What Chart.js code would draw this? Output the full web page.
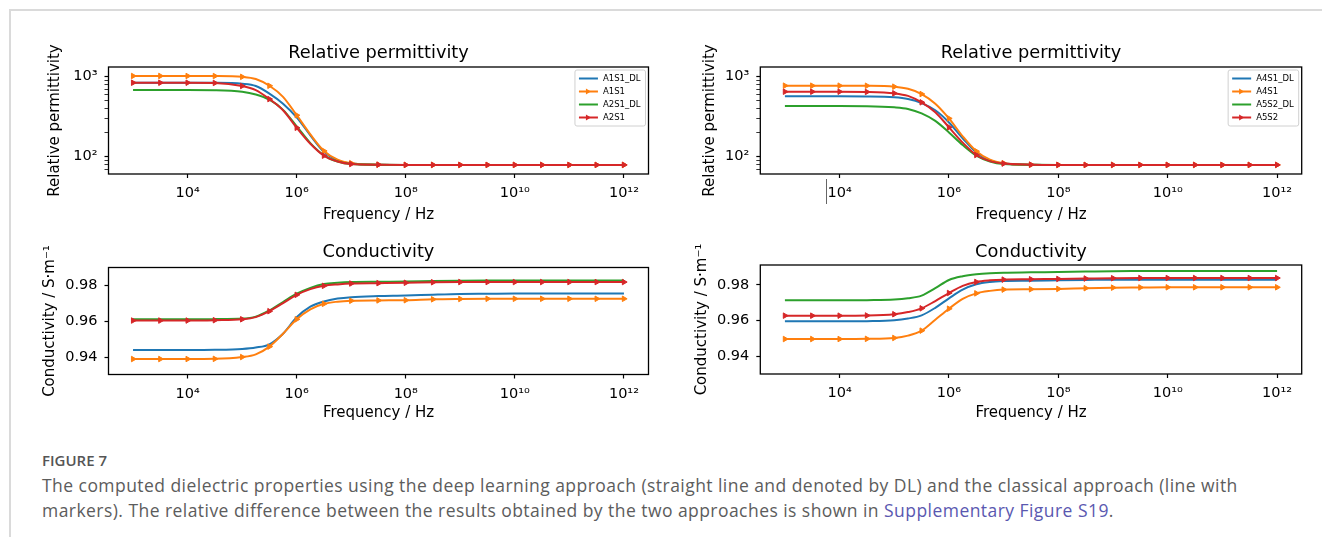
<!DOCTYPE html>
<html>
<head>
<meta charset="utf-8">
<script src="https://cdn.jsdelivr.net/npm/chart.js"></script>
<style>
  html, body { margin: 0; padding: 0; background: #fff; }
  body { width: 1322px; height: 537px; position: relative; overflow: hidden; font-family: 'Open Sans', sans-serif; }
  canvas { position: absolute; }
  .rule-h { position: absolute; left: 9px; top: 9px; width: 1313px; border-top: 2px solid #dadada; }
  .rule-v { position: absolute; left: 9px; top: 9px; height: 528px; border-left: 2px solid #dadada; }
  .stray { position: absolute; left: 826px; top: 179px; width: 1px; height: 25px; background: #666; }
  .cap { position: absolute; left: 42px; white-space: nowrap; color: #5c5c5c; line-height: 20px; }
  .cap.fig { top: 450px; font-size: 15px; font-weight: 600; color: #555; }
  .cap.txt { font-size: 17.5px; letter-spacing: 0.45px; }
  .cap a { color: #5a58b0; text-decoration: none; }
</style>
</head>
<body>
<div class="rule-h"></div>
<div class="rule-v"></div>
<canvas id="permLeft"></canvas>
<canvas id="permRight"></canvas>
<canvas id="condLeft"></canvas>
<canvas id="condRight"></canvas>
<div class="stray"></div>
<div class="cap fig">FIGURE 7</div>
<div class="cap txt" style="top:475px">The computed dielectric properties using the deep learning approach (straight line and denoted by DL) and the classical approach (line with</div>
<div class="cap txt" style="top:499.5px">markers). The relative difference between the results obtained by the two approaches is shown in <a>Supplementary Figure S19</a>.</div>
<script>
// frequency grid (Hz)
const freqHz = [1e3, 3.16e3, 1e4, 3.16e4, 1e5, 1.78e5, 3.16e5, 5.62e5, 1e6, 1.78e6, 3.16e6, 5.62e6,
  1e7, 3.16e7, 1e8, 3.16e8, 1e9, 3.16e9, 1e10, 3.16e10, 1e11, 3.16e11, 1e12];

const xTickValues = [1e4, 1e6, 1e8, 1e10, 1e12];
const xTickLabels = ['10⁴', '10⁶', '10⁸', '10¹⁰', '10¹²'];
const permTickValues = [100, 1000];
const permTickLabels = ['10²', '10³'];
const permMinorTicks = [70, 80, 90, 200, 300, 400, 500, 600, 700, 800, 900];
const condTickValues = [0.94, 0.96, 0.98];
const condTickLabels = ['0.94', '0.96', '0.98'];

const leftNames = ['A1S1_DL', 'A1S1', 'A2S1_DL', 'A2S1'];
const rightNames = ['A4S1_DL', 'A4S1', 'A5S2_DL', 'A5S2'];

// relative permittivity, left
const permA1S1_DL = [840, 840, 840, 838, 815, 765, 615, 460, 310, 185, 115, 90, 82, 79.5, 79, 79, 79, 79, 79, 79, 79, 79, 79];
const permA1S1 = [1020, 1020, 1020, 1018, 995, 935, 770, 560, 330, 190, 118, 92, 83, 79.5, 79, 79, 79, 79, 79, 79, 79, 79, 79];
const permA2S1_DL = [680, 680, 680, 677, 650, 600, 515, 385, 240, 148, 104, 87, 81, 79.5, 79, 79, 79, 79, 79, 79, 79, 79, 79];
const permA2S1 = [840, 840, 840, 835, 765, 680, 525, 380, 230, 145, 103, 87, 81, 79.5, 79, 79, 79, 79, 79, 79, 79, 79, 79];

// relative permittivity, right
const permA4S1_DL = [568, 568, 568, 566, 552, 525, 468, 380, 268, 170, 113, 90, 82, 79.5, 79, 79, 79, 79, 79, 79, 79, 79, 79];
const permA4S1 = [772, 772, 772, 770, 750, 705, 607, 460, 301, 180, 117, 92, 83, 79.5, 79, 79, 79, 79, 79, 79, 79, 79, 79];
const permA5S2_DL = [430, 430, 430, 428, 414, 395, 348, 280, 201, 140, 103, 87, 81, 79.5, 79, 79, 79, 79, 79, 79, 79, 79, 79];
const permA5S2 = [649, 649, 649, 645, 619, 575, 478, 360, 233, 150, 105, 88, 82, 79.5, 79, 79, 79, 79, 79, 79, 79, 79, 79];

// conductivity, left
const condA1S1_DL = [0.9439, 0.9439, 0.9439, 0.9440, 0.9445, 0.9453, 0.9471, 0.9530, 0.9621, 0.9680, 0.9709, 0.9725, 0.9733, 0.9739, 0.9742, 0.9747, 0.9751, 0.9752, 0.9753, 0.9753, 0.9753, 0.9753, 0.9753];
const condA1S1 = [0.9389, 0.9389, 0.9389, 0.9390, 0.9400, 0.9415, 0.9458, 0.9530, 0.9610, 0.9665, 0.9696, 0.9708, 0.9713, 0.9715, 0.9716, 0.9721, 0.9723, 0.9724, 0.9724, 0.9724, 0.9724, 0.9724, 0.9724];
const condA2S1_DL = [0.9610, 0.9610, 0.9610, 0.9611, 0.9614, 0.9625, 0.9659, 0.9706, 0.9752, 0.9785, 0.9806, 0.9813, 0.9817, 0.9819, 0.9820, 0.9823, 0.9825, 0.9826, 0.9826, 0.9826, 0.9826, 0.9826, 0.9826];
const condA2S1 = [0.9603, 0.9603, 0.9603, 0.9605, 0.9610, 0.9622, 0.9655, 0.9700, 0.9746, 0.9778, 0.9796, 0.9804, 0.9809, 0.9811, 0.9813, 0.9816, 0.9817, 0.9817, 0.9817, 0.9817, 0.9817, 0.9817, 0.9817];

// conductivity, right
const condA4S1_DL = [0.9596, 0.9596, 0.9596, 0.9597, 0.9602, 0.9612, 0.9630, 0.9672, 0.9725, 0.9774, 0.9804, 0.9817, 0.9822, 0.9824, 0.9826, 0.9828, 0.9830, 0.9830, 0.9830, 0.9830, 0.9830, 0.9830, 0.9830];
const condA4S1 = [0.9497, 0.9497, 0.9497, 0.9498, 0.9503, 0.9516, 0.9544, 0.9605, 0.9667, 0.9722, 0.9753, 0.9767, 0.9774, 0.9776, 0.9778, 0.9782, 0.9785, 0.9786, 0.9787, 0.9787, 0.9787, 0.9787, 0.9787];
const condA5S2_DL = [0.9714, 0.9714, 0.9714, 0.9715, 0.9718, 0.9725, 0.9740, 0.9782, 0.9828, 0.9849, 0.9860, 0.9866, 0.9869, 0.9871, 0.9873, 0.9875, 0.9877, 0.9878, 0.9879, 0.9879, 0.9879, 0.9879, 0.9879];
const condA5S2 = [0.9628, 0.9628, 0.9628, 0.9629, 0.9636, 0.9648, 0.9669, 0.9710, 0.9755, 0.9795, 0.9817, 0.9826, 0.9830, 0.9832, 0.9834, 0.9836, 0.9838, 0.9839, 0.9839, 0.9839, 0.9839, 0.9839, 0.9839];

const colors = ['#1f77b4', '#ff7f0e', '#2ca02c', '#d62728'];
const hasMarkers = [false, true, false, true];

Chart.defaults.font.family = '"DejaVu Sans", sans-serif';
Chart.defaults.color = '#000';

// markers only every half decade, like markevery in the original
function onHalfDecade(f) {
  const e = Math.log10(f) * 2;
  return Math.abs(e - Math.round(e)) < 0.01;
}

const frame = {
  id: 'frame',
  afterDatasetsDraw(chart) {
    const { ctx, chartArea: a } = chart;
    ctx.save();
    ctx.strokeStyle = '#000';
    ctx.lineWidth = 1.3;
    ctx.strokeRect(a.left, a.top, a.right - a.left, a.bottom - a.top);
    ctx.restore();
  }
};

const boxLegend = {
  id: 'boxLegend',
  afterDraw(chart, args, opts) {
    if (!opts.show) return;
    const { ctx, chartArea: a } = chart;
    const ds = chart.data.datasets;
    ctx.save();
    ctx.font = '8.5px "DejaVu Sans"';
    const textW = Math.max(...ds.map(d => ctx.measureText(d.label).width));
    const rowH = 13;
    const w = 28 + textW + 5, h = ds.length * rowH + 4;
    const x0 = a.right - 3 - w, y0 = a.top + 3;
    ctx.beginPath();
    ctx.roundRect(x0, y0, w, h, 2);
    ctx.fillStyle = 'rgba(255,255,255,0.8)';
    ctx.fill();
    ctx.strokeStyle = '#d0d0d0';
    ctx.lineWidth = 1;
    ctx.stroke();
    ds.forEach((d, i) => {
      const y = y0 + 2 + rowH * (i + 0.5);
      ctx.strokeStyle = d.borderColor;
      ctx.lineWidth = 2;
      ctx.beginPath();
      ctx.moveTo(x0 + 4, y);
      ctx.lineTo(x0 + 23, y);
      ctx.stroke();
      if (d.marker) {
        ctx.fillStyle = d.borderColor;
        ctx.beginPath();
        ctx.moveTo(x0 + 16, y);
        ctx.lineTo(x0 + 11, y - 3);
        ctx.lineTo(x0 + 11, y + 3);
        ctx.closePath();
        ctx.fill();
      }
      ctx.fillStyle = '#000';
      ctx.textBaseline = 'middle';
      ctx.fillText(d.label, x0 + 28, y + 0.5);
    });
    ctx.restore();
  }
};

function makeChart(id, r, cfg) {
  const canvas = document.getElementById(id);
  canvas.style.left = r.left + 'px';
  canvas.style.top = r.top + 'px';
  canvas.width = r.right - r.left;
  canvas.height = r.bottom - r.top;

  const titleSize = 17.8, titleLh = titleSize * 1.2;
  const axisSize = 15, axisLh = axisSize * 1.2;
  const padTop = r.titleY - r.top - titleLh / 2;
  const padBottom = r.boxTop - r.top - padTop - titleLh;

  const datasets = cfg.names.map((name, i) => ({
    label: name,
    data: freqHz.map((f, j) => ({ x: f, y: cfg.series[i][j] })),
    borderColor: colors[i],
    backgroundColor: colors[i],
    borderWidth: 2,
    cubicInterpolationMode: 'monotone',
    marker: hasMarkers[i],
    pointStyle: 'triangle',
    rotation: 90,
    pointRadius: ctx => (hasMarkers[i] && onHalfDecade(ctx.raw.x)) ? 3.2 : 0,
    pointBorderWidth: 1,
    order: 3 - i
  }));

  return new Chart(canvas, {
    type: 'line',
    data: { datasets },
    options: {
      responsive: false,
      animation: false,
      devicePixelRatio: 1,
      layout: { padding: { left: 0, top: 0, right: r.right - r.boxRight, bottom: 0 } },
      plugins: {
        legend: { display: false },
        tooltip: { enabled: false },
        title: {
          display: true,
          text: cfg.title,
          fullSize: false,
          font: { size: titleSize, weight: 'normal' },
          color: '#000',
          padding: { top: padTop, bottom: padBottom }
        },
        boxLegend: { show: cfg.legend }
      },
      scales: {
        x: {
          type: 'logarithmic',
          min: Math.pow(10, 2.55),
          max: Math.pow(10, 12.45),
          afterBuildTicks: s => { s.ticks = xTickValues.map(v => ({ value: v })); },
          afterFit: s => { s.height = r.bottom - r.boxBottom; },
          grid: { drawOnChartArea: false, drawTicks: true, tickLength: 4, tickColor: '#000', tickWidth: 1.2 },
          border: { display: false },
          ticks: {
            autoSkip: false, maxRotation: 0, padding: 7,
            font: { size: 14.5 },
            callback: v => xTickLabels[xTickValues.indexOf(v)]
          },
          title: {
            display: true,
            text: 'Frequency / Hz',
            font: { size: axisSize },
            padding: { top: 0, bottom: r.bottom - r.xTitleY - axisLh / 2 }
          }
        },
        y: {
          type: cfg.log ? 'logarithmic' : 'linear',
          min: cfg.yMin,
          max: cfg.yMax,
          afterBuildTicks: s => {
            s.ticks = cfg.yTicks.concat(cfg.yMinor || []).map(v => ({ value: v }));
          },
          afterFit: s => { s.width = r.boxLeft - r.left; },
          grid: {
            drawOnChartArea: false, drawTicks: true, tickLength: 4, tickColor: '#000',
            tickWidth: c => cfg.yTicks.includes(c.tick.value) ? 1.2 : 0.8
          },
          border: { display: false },
          ticks: {
            autoSkip: false, padding: 7,
            font: { size: 14.5 },
            callback: v => {
              const k = cfg.yTicks.indexOf(v);
              return k >= 0 ? cfg.yLabels[k] : '';
            }
          },
          title: {
            display: true,
            text: cfg.yTitle,
            font: { size: axisSize },
            padding: { top: r.yTitleX - r.left - axisLh / 2, bottom: 0 }
          }
        }
      }
    },
    plugins: [frame, boxLegend]
  });
}

makeChart('permLeft',
  { left: 44, top: 35, right: 660, bottom: 225, boxLeft: 108.5, boxTop: 67, boxRight: 648.5, boxBottom: 174, titleY: 53, yTitleX: 54.7, xTitleY: 215 },
  { title: 'Relative permittivity', yTitle: 'Relative permittivity', log: true, yMin: 60.8, yMax: 1321,
    yTicks: permTickValues, yLabels: permTickLabels, yMinor: permMinorTicks, legend: true,
    names: leftNames, series: [permA1S1_DL, permA1S1, permA2S1_DL, permA2S1] });

makeChart('permRight',
  { left: 700, top: 35, right: 1313, bottom: 225, boxLeft: 760.3, boxTop: 67, boxRight: 1301.7, boxBottom: 174, titleY: 53, yTitleX: 710.6, xTitleY: 215 },
  { title: 'Relative permittivity', yTitle: 'Relative permittivity', log: true, yMin: 60.8, yMax: 1321,
    yTicks: permTickValues, yLabels: permTickLabels, yMinor: permMinorTicks, legend: true,
    names: rightNames, series: [permA4S1_DL, permA4S1, permA5S2_DL, permA5S2] });

makeChart('condLeft',
  { left: 40, top: 234, right: 660, bottom: 425, boxLeft: 108.5, boxTop: 267.5, boxRight: 648.5, boxBottom: 374.5, titleY: 252.7, yTitleX: 50, xTitleY: 412.7 },
  { title: 'Conductivity', yTitle: 'Conductivity / S·m⁻¹', log: false, yMin: 0.9303, yMax: 0.9898,
    yTicks: condTickValues, yLabels: condTickLabels, legend: false,
    names: leftNames, series: [condA1S1_DL, condA1S1, condA2S1_DL, condA2S1] });

makeChart('condRight',
  { left: 692, top: 234, right: 1313, bottom: 425, boxLeft: 760.3, boxTop: 265, boxRight: 1301.7, boxBottom: 374, titleY: 252.7, yTitleX: 702, xTitleY: 412.7 },
  { title: 'Conductivity', yTitle: 'Conductivity / S·m⁻¹', log: false, yMin: 0.9301, yMax: 0.9912,
    yTicks: condTickValues, yLabels: condTickLabels, legend: false,
    names: rightNames, series: [condA4S1_DL, condA4S1, condA5S2_DL, condA5S2] });
</script>
</body>
</html>
